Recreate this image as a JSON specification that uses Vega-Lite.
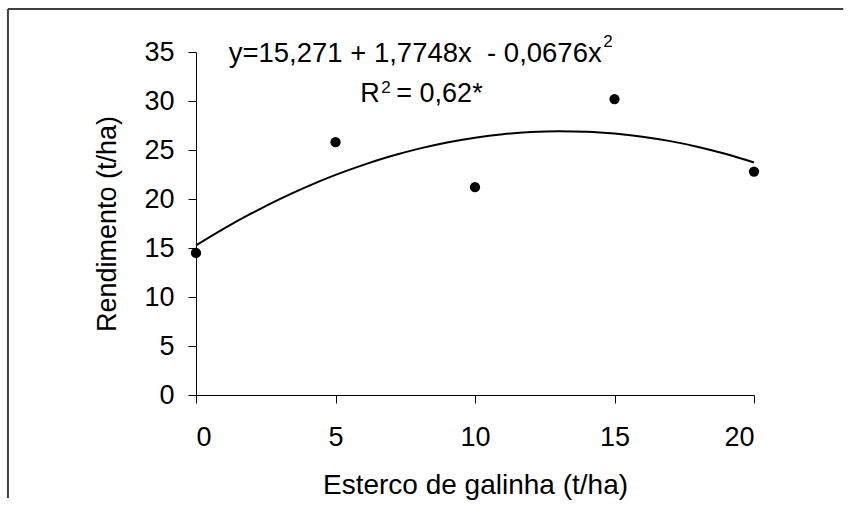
{
  "$schema": "https://vega.github.io/schema/vega-lite/v6.json",
  "width": 558,
  "height": 343,
  "autosize": {"type": "none"},
  "padding": {"left": 196, "top": 52, "right": 95, "bottom": 111},
  "background": "white",
  "config": {
    "view": {"stroke": null},
    "font": "Liberation Sans",
    "axis": {
      "grid": false,
      "domainColor": "black",
      "domainWidth": 1,
      "tickColor": "black",
      "tickWidth": 1,
      "tickSize": 8,
      "labelFont": "Liberation Sans",
      "labelFontSize": 27,
      "labelColor": "black",
      "titleFont": "Liberation Sans",
      "titleFontSize": 27,
      "titleFontWeight": "normal",
      "titleColor": "black"
    }
  },
  "datasets": {
    "obs": [
      {"esterco": 0, "rendimento": 14.5},
      {"esterco": 5, "rendimento": 25.8},
      {"esterco": 10, "rendimento": 21.2},
      {"esterco": 15, "rendimento": 30.2},
      {"esterco": 20, "rendimento": 22.8}
    ],
    "fit": [
      {"esterco": 0, "rendimento": 15.271},
      {"esterco": 1, "rendimento": 16.978},
      {"esterco": 2, "rendimento": 18.55},
      {"esterco": 3, "rendimento": 19.987},
      {"esterco": 4, "rendimento": 21.289},
      {"esterco": 5, "rendimento": 22.455},
      {"esterco": 6, "rendimento": 23.486},
      {"esterco": 7, "rendimento": 24.382},
      {"esterco": 8, "rendimento": 25.143},
      {"esterco": 9, "rendimento": 25.769},
      {"esterco": 10, "rendimento": 26.259},
      {"esterco": 11, "rendimento": 26.614},
      {"esterco": 12, "rendimento": 26.834},
      {"esterco": 13, "rendimento": 26.919},
      {"esterco": 14, "rendimento": 26.869},
      {"esterco": 15, "rendimento": 26.683},
      {"esterco": 16, "rendimento": 26.362},
      {"esterco": 17, "rendimento": 25.906},
      {"esterco": 18, "rendimento": 25.315},
      {"esterco": 19, "rendimento": 24.589},
      {"esterco": 20, "rendimento": 23.727}
    ],
    "note": [{"label": "annotation"}]
  },
  "layer": [
    {
      "data": {"name": "fit"},
      "mark": {"type": "line", "color": "black", "strokeWidth": 2, "interpolate": "monotone"},
      "encoding": {
        "x": {
          "field": "esterco",
          "type": "quantitative",
          "scale": {"domain": [0, 20], "nice": false, "zero": false},
          "axis": {"title": "Esterco de galinha (t/ha)", "values": [0, 5, 10, 15, 20], "labelPadding": 21, "titlePadding": 21, "titleFontSize": 28}
        },
        "y": {
          "field": "rendimento",
          "type": "quantitative",
          "scale": {"domain": [0, 35], "nice": false, "zero": false},
          "axis": {"title": "Rendimento (t/ha)", "values": [0, 5, 10, 15, 20, 25, 30, 35], "labelPadding": 14, "titlePadding": 22}
        }
      }
    },
    {
      "data": {"name": "obs"},
      "mark": {"type": "point", "shape": "circle", "filled": true, "color": "black", "opacity": 1, "size": 105},
      "encoding": {
        "x": {"field": "esterco", "type": "quantitative"},
        "y": {"field": "rendimento", "type": "quantitative"}
      }
    },
    {
      "data": {"name": "note"},
      "mark": {"type": "rule", "color": "#404040", "strokeWidth": 2},
      "encoding": {
        "x": {"datum": -6.74, "type": "quantitative"},
        "y": {"datum": 39.4, "type": "quantitative"},
        "y2": {"datum": -10.5}
      }
    },
    {
      "data": {"name": "note"},
      "mark": {"type": "rule", "color": "#404040", "strokeWidth": 2},
      "encoding": {
        "x": {"datum": -6.74, "type": "quantitative"},
        "x2": {"datum": 23.2},
        "y": {"datum": 39.4, "type": "quantitative"}
      }
    },
    {
      "data": {"name": "note"},
      "mark": {"type": "text", "text": "y=15,271 + 1,7748x \u00a0- 0,0676x", "align": "left", "baseline": "alphabetic", "fontSize": 27.5, "color": "black"},
      "encoding": {
        "x": {"datum": 1.17, "type": "quantitative"},
        "y": {"datum": 34.0, "type": "quantitative"}
      }
    },
    {
      "data": {"name": "note"},
      "mark": {"type": "text", "text": "2", "align": "left", "baseline": "alphabetic", "fontSize": 17, "color": "black"},
      "encoding": {
        "x": {"datum": 14.6, "type": "quantitative"},
        "y": {"datum": 35.5, "type": "quantitative"}
      }
    },
    {
      "data": {"name": "note"},
      "mark": {"type": "text", "text": "R", "align": "left", "baseline": "alphabetic", "fontSize": 27, "color": "black"},
      "encoding": {
        "x": {"datum": 5.89, "type": "quantitative"},
        "y": {"datum": 29.93, "type": "quantitative"}
      }
    },
    {
      "data": {"name": "note"},
      "mark": {"type": "text", "text": "2", "align": "left", "baseline": "alphabetic", "fontSize": 17, "color": "black"},
      "encoding": {
        "x": {"datum": 6.64, "type": "quantitative"},
        "y": {"datum": 30.82, "type": "quantitative"}
      }
    },
    {
      "data": {"name": "note"},
      "mark": {"type": "text", "text": "= 0,62*", "align": "left", "baseline": "alphabetic", "fontSize": 27, "color": "black"},
      "encoding": {
        "x": {"datum": 7.18, "type": "quantitative"},
        "y": {"datum": 29.93, "type": "quantitative"}
      }
    }
  ]
}
